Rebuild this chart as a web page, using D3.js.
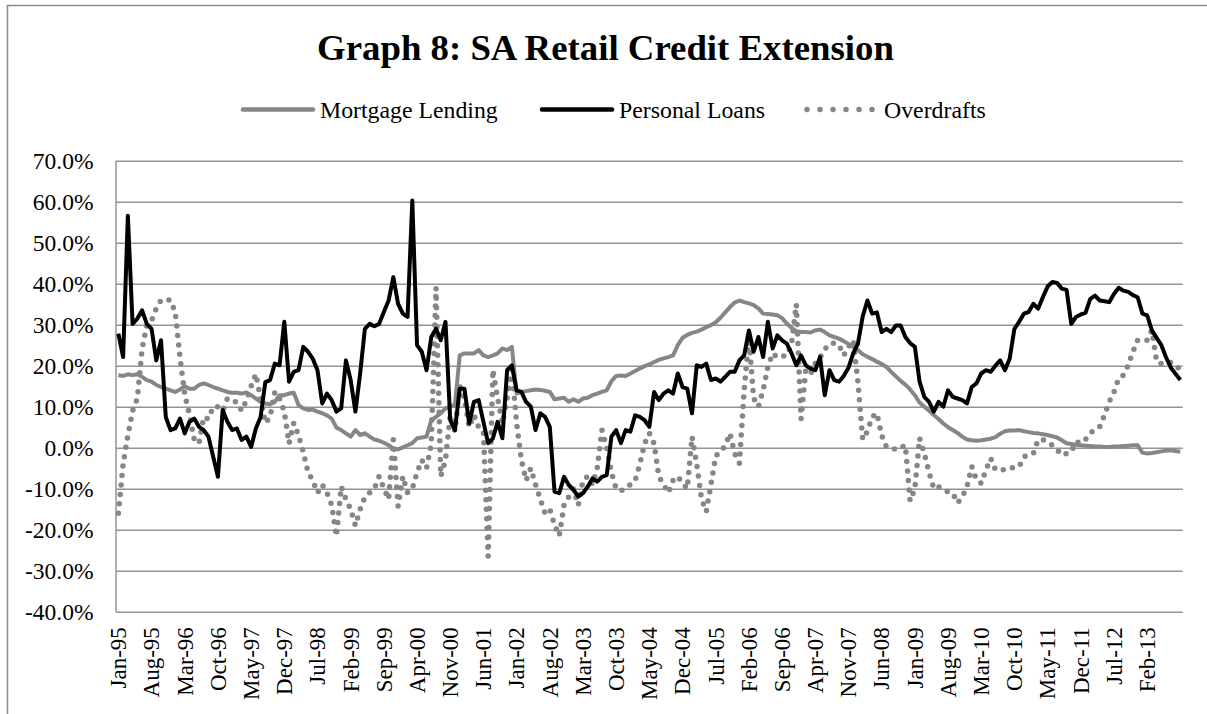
<!DOCTYPE html>
<html>
<head>
<meta charset="utf-8">
<script src="https://cdn.jsdelivr.net/npm/d3@7"></script>
<style>
  body { margin: 0; background: #fff; }
  text { font-family: "Liberation Serif", "Times New Roman", serif; fill: #000; }
</style>
</head>
<body>
<script>
// ---- data (monthly growth, %) ----
var startMonth = new Date(1995, 0, 1);
var endMonth = new Date(2013, 9, 1);   // exclusive -> Jan-95 .. Sep-13

var tickLabels = ["Jan-95","Aug-95","Mar-96","Oct-96","May-97","Dec-97","Jul-98","Feb-99",
  "Sep-99","Apr-00","Nov-00","Jun-01","Jan-02","Aug-02","Mar-03","Oct-03","May-04","Dec-04",
  "Jul-05","Feb-06","Sep-06","Apr-07","Nov-07","Jun-08","Jan-09","Aug-09","Mar-10","Oct-10",
  "May-11","Dec-11","Jul-12","Feb-13"];

var yTicks = [70, 60, 50, 40, 30, 20, 10, 0, -10, -20, -30, -40];

var mortgage = [
  17.7, 17.5, 17.9, 17.7, 17.9, 17.3, 16.5, 16.1, 15.3, 14.8,
  14.4, 14.0, 13.6, 14.2, 15.0, 14.4, 14.4, 15.3, 15.7, 15.3,
  14.8, 14.4, 14.0, 13.6, 13.4, 13.4, 13.2, 13.5, 12.8, 12.0,
  11.2, 10.8, 10.6, 11.2, 12.8, 12.8, 13.2, 13.4, 10.4, 9.6,
  9.2, 9.3, 8.8, 8.4, 7.9, 7.1, 4.9, 4.3, 3.5, 2.7,
  4.3, 3.1, 3.5, 2.7, 2.0, 1.7, 1.2, 0.6, -0.2, -0.4,
  0.1, 0.6, 1.1, 2.3, 2.5, 2.7, 6.7, 7.5, 8.4, 9.6,
  10.0, 10.5, 22.5, 23.0, 23.0, 23.0, 23.8, 22.5, 22.1, 22.5,
  23.0, 24.2, 23.8, 24.6, 13.2, 13.6, 13.8, 14.0, 14.2, 14.1,
  13.9, 13.6, 11.8, 12.0, 12.2, 11.2, 11.8, 11.2, 12.0, 12.2,
  12.8, 13.2, 13.6, 14.0, 16.2, 17.5, 17.6, 17.5, 18.1, 18.7,
  19.3, 19.9, 20.3, 20.9, 21.4, 21.8, 22.1, 22.5, 25.0, 26.8,
  27.5, 28.0, 28.3, 28.8, 29.4, 29.9, 30.6, 31.7, 33.0, 34.3,
  35.4, 35.9, 35.5, 35.2, 34.8, 34.0, 32.7, 32.6, 32.5, 32.3,
  31.6, 30.3, 29.2, 28.4, 28.2, 28.2, 28.1, 28.6, 28.8, 28.2,
  27.4, 27.0, 26.6, 26.0, 25.3, 24.6, 23.8, 22.8, 22.2, 21.6,
  21.0, 20.4, 19.7, 18.5, 17.4, 16.3, 15.4, 14.2, 12.8, 11.0,
  10.0, 9.0, 8.0, 7.0, 5.9, 5.0, 4.3, 3.6, 2.7, 2.0,
  1.8, 1.7, 1.8, 2.0, 2.2, 2.6, 3.4, 4.0, 4.2, 4.2,
  4.3, 4.0, 3.8, 3.6, 3.5, 3.3, 3.1, 2.8, 2.5, 1.8,
  1.1, 0.9, 0.7, 0.6, 0.5, 0.4, 0.3, 0.3, 0.2, 0.2,
  0.3, 0.3, 0.4, 0.5, 0.6, 0.6, -1.2, -1.4, -1.3, -1.1,
  -0.9, -0.7, -0.6, -0.8, -1.0
];

var personalLoans = [
  27.8, 22.1, 56.6, 30.2, 31.5, 33.5, 30.2, 29.0, 21.3, 26.2,
  7.5, 4.3, 4.7, 7.1, 3.5, 6.3, 7.1, 5.1, 4.3, 2.7,
  -2.2, -7.1, 9.2, 6.3, 4.3, 4.7, 1.9, 2.7, 0.2, 4.7,
  7.5, 16.0, 16.5, 20.5, 20.1, 30.7, 16.1, 18.5, 18.9, 24.6,
  23.4, 21.7, 18.9, 10.8, 13.2, 11.6, 8.8, 9.6, 21.3, 16.5,
  8.8, 18.1, 29.0, 30.2, 29.6, 30.2, 33.1, 35.9, 41.6, 35.1,
  32.7, 31.9, 60.3, 25.0, 23.4, 18.9, 27.0, 29.0, 26.2, 30.7,
  6.7, 4.3, 14.4, 14.4, 5.9, 11.2, 11.6, 6.3, 1.1, 2.3,
  6.3, 2.3, 18.9, 20.1, 14.0, 13.6, 11.2, 10.0, 4.3, 8.4,
  7.5, 5.1, -10.7, -11.1, -7.1, -9.1, -10.3, -11.9, -11.1, -9.5,
  -7.5, -8.3, -7.1, -6.7, 2.7, 4.3, 1.1, 4.3, 3.9, 7.9,
  7.5, 6.7, 5.1, 13.6, 11.6, 13.2, 14.0, 13.2, 18.1, 14.8,
  14.4, 8.4, 20.1, 19.7, 20.5, 16.5, 16.9, 16.1, 17.3, 18.5,
  18.5, 21.3, 22.5, 28.6, 23.4, 27.0, 22.1, 30.7, 24.2, 27.4,
  26.2, 25.4, 23.0, 20.1, 22.5, 20.1, 19.3, 18.9, 22.1, 12.8,
  18.9, 16.5, 16.1, 17.5, 19.5, 23.0, 25.4, 32.0, 35.9, 32.7,
  33.0, 28.2, 29.0, 28.2, 29.8, 29.8, 27.0, 25.5, 24.6, 16.1,
  12.4, 11.2, 8.8, 11.2, 10.0, 14.0, 12.4, 12.0, 11.6, 10.8,
  14.8, 15.7, 18.1, 18.9, 18.5, 20.0, 21.3, 18.9, 21.7, 29.0,
  30.7, 32.7, 33.1, 35.1, 33.9, 36.7, 39.3, 40.4, 40.2, 38.8,
  38.5, 30.2, 31.9, 32.5, 32.9, 36.3, 37.1, 35.9, 35.7, 35.5,
  37.5, 39.0, 38.3, 38.0, 37.2, 36.7, 32.7, 32.3, 28.6, 26.8,
  25.0, 22.0, 19.5, 18.0, 16.5
];

var overdrafts = [
  -16, -4, 3, 9, 12, 24, 30, 31, 34, 36,
  36, 36, 33, 22, 13, 8, 2, 1, 7.5, 7,
  10, 10, 9, 12, 11.6, 11, 9, 11.6, 15, 18,
  12, 6, 7.5, 13.6, 12, 8.8, 1, 6, 3, -1,
  -6, -8, -11, -9, -11, -14, -21.6, -9.5, -12.6, -15,
  -19, -15, -12, -11, -10, -7, -10, -12.6, 2, -14.3,
  -7, -11, -10, -6, -3, -5, 1, 39, -7, -3,
  8, 4, 15, 12, 5, 8, 5, 4, -26.5, 19,
  12, 6, 12, 19, 6, -3, -8, -5, -9, -12.6,
  -16, -15, -18.8, -21.5, -14, -12, -10, -14, -8, -7,
  -9, -5, 4.3, 0, -6, -10, -10.5, -10, -9, -8,
  -4, 1, 3.5, 1, -7, -9, -11, -8, -7, -8.7,
  -10, 2.7, -4, -12.5, -15.6, -9, -2, -1, 0.5, 3.5,
  -1.4, -3.8, 14, 27, 12, 10, 14, 19.7, 23, 22,
  22.3, 22.5, 25.4, 35, 7, 19, 18, 20.5, 22, 24,
  25.4, 25.5, 25, 22.5, 24.6, 26.2, 16, 2, 4, 7.5,
  8.4, 3, 0.2, 0, -0.5, 0, 0.6, -13, -10, 2.3,
  -1.4, -6, -10, -9.5, -10.3, -10.8, -11.1, -13.5, -12, -9.5,
  -4.6, -7.9, -8.7, -5.4, -2.6, -5.4, -5.4, -5.4, -5, -4.8,
  -4.6, -2.2, -1.8, -1.4, 1.9, 1.9, 1.5, 0.6, -0.5, -1.8,
  -1.4, -1, 1.5, 1.1, 2, 3.5, 4.5, 5.1, 7.9, 11.2,
  13.6, 16.9, 17.7, 20.1, 23.4, 26.2, 26.2, 26.2, 28.6, 21,
  20.5, 20.6, 20.8, 20.1, 19
];

var seriesNames = ["Mortgage Lending", "Personal Loans", "Overdrafts"];

// ---- layout ----
var W = 1207, H = 714;
var plot = {left: 116, right: 1182.7, top: 160.7, bottom: 611.7};
var gridColor = "#939393";
var greyLine = "#868686";

var months = d3.timeMonth.range(startMonth, endMonth);
var fmt = d3.timeFormat("%b-%y");

var svg = d3.select("body").append("svg")
  .attr("width", W)
  .attr("height", H);

// chart frame
svg.append("rect")
  .attr("x", 7.5).attr("y", 5.5)
  .attr("width", W + 20).attr("height", H + 20)
  .attr("fill", "none")
  .attr("stroke", "#8a8a8a")
  .attr("stroke-width", 1.5);

// scales
var x = d3.scaleBand()
  .domain(months)
  .range([plot.left, plot.right])
  .padding(0);

var y = d3.scaleLinear()
  .domain([-40, 70])
  .range([plot.bottom, plot.top]);

// y axis + gridlines
var yAxis = d3.axisLeft(y)
  .tickValues(yTicks)
  .tickSize(-(plot.right - plot.left))
  .tickPadding(22.5)
  .tickFormat(function(d) { return d.toFixed(1) + "%"; });

var gy = svg.append("g")
  .attr("transform", "translate(" + plot.left + ",0)")
  .call(yAxis);
gy.select(".domain").remove();
gy.selectAll("line").attr("stroke", gridColor).attr("stroke-width", 1.5);
gy.selectAll("text")
  .style("font-family", '"Liberation Serif", "Times New Roman", serif')
  .style("font-size", "23.5px")
  .attr("fill", "#000")
  .attr("dy", "0.34em");

// left axis line
svg.append("line")
  .attr("x1", plot.left).attr("x2", plot.left)
  .attr("y1", plot.top).attr("y2", plot.bottom)
  .attr("stroke", gridColor).attr("stroke-width", 1.5);

// x axis (category labels every 7 months)
var xAxis = d3.axisBottom(x)
  .tickValues(months.filter(function(m) { return tickLabels.indexOf(fmt(m)) >= 0; }))
  .tickSize(0)
  .tickFormat(fmt);

var gx = svg.append("g")
  .attr("transform", "translate(0," + plot.bottom + ")")
  .call(xAxis);
gx.select(".domain").remove();
gx.selectAll("text")
  .style("font-family", '"Liberation Serif", "Times New Roman", serif')
  .style("font-size", "23px")
  .attr("fill", "#000")
  .attr("transform", "rotate(-90)")
  .attr("text-anchor", "end")
  .attr("x", -15.5)
  .attr("y", 0)
  .attr("dy", "0.34em");

// lines
var line = d3.line()
  .x(function(d, i) { return x(months[i]) + x.bandwidth() / 2; })
  .y(function(d) { return y(d); });

svg.append("path")
  .datum(overdrafts)
  .attr("d", line)
  .attr("fill", "none")
  .attr("stroke", greyLine)
  .attr("stroke-width", 5.5)
  .attr("stroke-linecap", "round")
  .attr("stroke-dasharray", "0 9.5");

svg.append("path")
  .datum(mortgage)
  .attr("d", line)
  .attr("fill", "none")
  .attr("stroke", greyLine)
  .attr("stroke-width", 4)
  .attr("stroke-linejoin", "round");

svg.append("path")
  .datum(personalLoans)
  .attr("d", line)
  .attr("fill", "none")
  .attr("stroke", "#000")
  .attr("stroke-width", 4)
  .attr("stroke-linejoin", "round");

// title
svg.append("text")
  .attr("x", 605.5).attr("y", 60)
  .attr("text-anchor", "middle")
  .style("font-size", "36.8px")
  .style("font-weight", "bold")
  .text("Graph 8: SA Retail Credit Extension");

// legend
var legendItems = [
  {name: seriesNames[0], x0: 243, color: greyLine, dash: null},
  {name: seriesNames[1], x0: 542, color: "#000", dash: null},
  {name: seriesNames[2], x0: 807, color: greyLine, dash: "0 13"}
];
var legend = svg.append("g");
legendItems.forEach(function(d) {
  legend.append("line")
    .attr("x1", d.x0).attr("x2", d.x0 + 70)
    .attr("y1", 109.5).attr("y2", 109.5)
    .attr("stroke", d.color)
    .attr("stroke-width", d.dash ? 5.5 : 4.5)
    .attr("stroke-linecap", "round")
    .attr("stroke-dasharray", d.dash);
  legend.append("text")
    .attr("x", d.x0 + 77).attr("y", 118)
    .style("font-size", "23.8px")
    .text(d.name);
});
</script>
</body>
</html>
